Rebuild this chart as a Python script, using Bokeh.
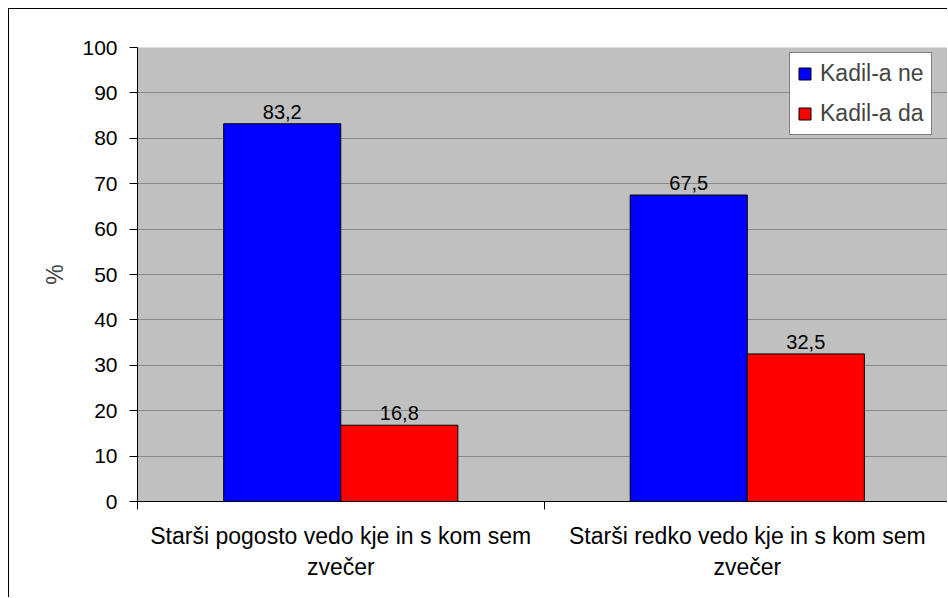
from bokeh.plotting import figure
from bokeh.models import FixedTicker, ColumnDataSource, Legend, LegendItem, Range1d
from bokeh.core.properties import value
from bokeh.embed import file_html
from bokeh.resources import INLINE

# ---- data ----
categories = ["Starši pogosto vedo kje in s kom sem\nzvečer",
              "Starši redko vedo kje in s kom sem\nzvečer"]
series_names = ["Kadil-a ne", "Kadil-a da"]
ne_values = [83.2, 67.5]
da_values = [16.8, 32.5]
y_ticks = [0, 10, 20, 30, 40, 50, 60, 70, 80, 90, 100]
y_label = "%"

FONT = "Liberation Sans"
bar_w = 0.288
offsets = [-bar_w / 2, bar_w / 2]
colors = ["#0000FF", "#FF0000"]

p = figure(width=939, height=589, output_backend="svg", toolbar_location=None,
           x_range=Range1d(0, 1.995), y_range=Range1d(0, 100),
           min_border_left=128, min_border_top=38, min_border_bottom=97,
           min_border_right=0)
p.styles = {"margin-left": "8px", "margin-top": "8px",
            "border-left": "1px solid black", "border-top": "1px solid black"}

p.background_fill_color = "#C0C0C0"
p.border_fill_color = "white"
p.outline_line_color = None

p.xgrid.grid_line_color = None
p.ygrid.grid_line_color = "#888888"
p.ygrid.grid_line_width = 1

renderers = []
for vals, off, col in zip([ne_values, da_values], offsets, colors):
    xs = [i + 0.5 + off for i in range(len(categories))]
    src = ColumnDataSource(dict(x=xs, top=vals,
                                lbl=[f"{v:.1f}".replace(".", ",") for v in vals]))
    r = p.vbar(x="x", top="top", bottom=0, width=bar_w, source=src,
               fill_color=col, line_color="black", line_width=1)
    renderers.append(r)
    p.text(x="x", y="top", text="lbl", source=src, text_align="center",
           text_baseline="bottom", y_offset=-5,
           text_font=value(FONT), text_font_size="20px", text_color="black")

legend = Legend(items=[LegendItem(label=n, renderers=[r]) for n, r in zip(series_names, renderers)],
                location=(652, 366))
legend.border_line_color = "black"
legend.border_line_width = 1
legend.background_fill_color = "white"
legend.background_fill_alpha = 1
legend.label_text_font = FONT
legend.label_text_font_size = "23px"
legend.glyph_width = 15
legend.glyph_height = 15
legend.padding = 7
legend.spacing = 13
legend.label_standoff = 8
legend.margin = 0
p.add_layout(legend)

# y axis
yax = p.yaxis[0]
yax.ticker = FixedTicker(ticks=y_ticks)
yax.axis_line_color = "black"
yax.major_tick_line_color = "black"
yax.major_tick_out = 8
yax.major_tick_in = 0
yax.minor_tick_line_color = None
yax.major_label_text_font = FONT
yax.major_label_text_font_size = "21px"
yax.major_label_text_color = "black"
yax.major_label_standoff = 12
yax.axis_label = y_label
yax.axis_label_text_font = FONT
yax.axis_label_text_font_size = "23px"
yax.axis_label_text_font_style = "normal"
yax.axis_label_standoff = 11

# x axis: labels at category centres, tick marks between categories
xax = p.xaxis[0]
xax.ticker = FixedTicker(ticks=[i + 0.5 for i in range(len(categories))],
                         minor_ticks=list(range(len(categories) + 1)))
xax.major_label_overrides = {i + 0.5: c for i, c in enumerate(categories)}
xax.axis_line_color = "black"
xax.major_tick_line_color = None
xax.major_tick_out = 0
xax.major_tick_in = 0
xax.minor_tick_line_color = "black"
xax.minor_tick_out = 8
xax.minor_tick_in = 0
xax.major_label_text_font = FONT
xax.major_label_text_font_size = "23px"
xax.major_label_text_color = "black"
xax.major_label_standoff = 13

open("out.html", "w").write(file_html(p, INLINE))
